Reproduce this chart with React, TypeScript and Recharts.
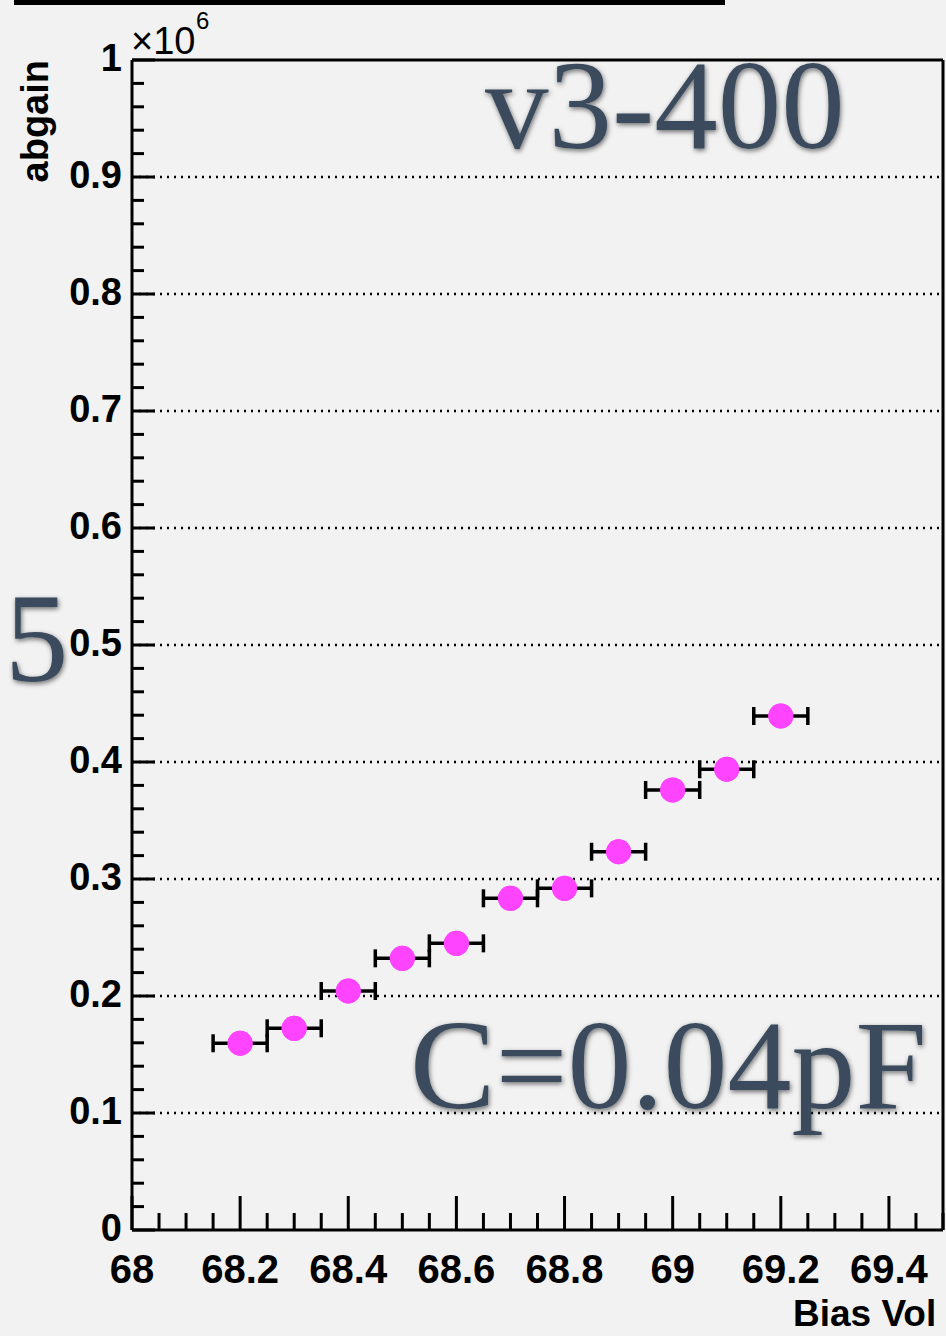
import {
    CartesianGrid,
    ErrorBar,
    ReferenceLine,
    Scatter,
    ScatterChart,
    XAxis,
    YAxis,
} from "recharts";

// bias voltage (V) and gain (x10^6)
const biasVolts = [68.2, 68.3, 68.4, 68.5, 68.6, 68.7, 68.8, 68.9, 69.0, 69.1, 69.2];
const gainMillions = [0.1596, 0.1724, 0.2043, 0.2322, 0.245, 0.2835, 0.292, 0.3233, 0.3761, 0.3938, 0.4393];
const biasErr = [0.05, 0.05, 0.05, 0.05, 0.05, 0.05, 0.05, 0.05, 0.05, 0.05, 0.05];

const xMajorTicks = [68, 68.2, 68.4, 68.6, 68.8, 69, 69.2, 69.4];
const yMajorTicks = [0, 0.1, 0.2, 0.3, 0.4, 0.5, 0.6, 0.7, 0.8, 0.9, 1];
const gridValues = [0.1, 0.2, 0.3, 0.4, 0.5, 0.6, 0.7, 0.8, 0.9];

const points = biasVolts.map((v, i) => ({ v, g: gainMillions[i], ex: biasErr[i] }));

// minor ticks: 0.05 V on x, 0.02 on y
const xTicks: number[] = [];
for (let i = 0; i <= 30; i++) xTicks.push(+(68 + i * 0.05).toFixed(2));
const yTicks: number[] = [];
for (let i = 0; i <= 50; i++) yTicks.push(+(i * 0.02).toFixed(2));

const isMajor = (v: number, list: number[]) => list.some((t) => Math.abs(t - v) < 1e-6);

const SANS = "'Liberation Sans', Arial, Helvetica, sans-serif";
const SERIF = "'Liberation Serif', 'Times New Roman', serif";
const SLATE = "#3a4c5d";

function XTick(props: any) {
    const { x, y, payload } = props;
    const major = isMajor(payload.value, xMajorTicks);
    return (
        <g>
            <line x1={x} x2={x} y1={y} y2={y - (major ? 34 : 17)} stroke="#000" strokeWidth={3} />
            {major && (
                <text x={x} y={y + 53} textAnchor="middle" fontSize={40} fontWeight="bold" fontFamily={SANS} fill="#000">
                    {String(Number(payload.value.toFixed(1)))}
                </text>
            )}
        </g>
    );
}

function YTick(props: any) {
    const { x, y, payload } = props;
    const major = isMajor(payload.value, yMajorTicks);
    return (
        <g>
            <line x1={x} x2={x + (major ? 23 : 12)} y1={y} y2={y} stroke="#000" strokeWidth={3} />
            {major && (
                <text x={x - 10} y={y + 11} textAnchor="end" fontSize={38} fontWeight="bold" fontFamily={SANS} fill="#000">
                    {String(Number(payload.value.toFixed(1)))}
                </text>
            )}
        </g>
    );
}

function Marker(props: any) {
    return <circle cx={props.cx} cy={props.cy} r={12.5} fill="#ff44ff" />;
}

export default function App() {
    return (
        <div style={{ position: "absolute", left: 0, top: 0, width: 946, height: 1336, background: "#f2f2f2", overflow: "hidden" }}>
            <ScatterChart width={946} height={1336} margin={{ top: 60, right: 3, bottom: 0, left: 0 }}>
                <CartesianGrid
                    vertical={false}
                    horizontalValues={gridValues}
                    stroke="#000"
                    strokeWidth={2.5}
                    strokeDasharray="2 5"
                />
                <XAxis
                    type="number"
                    dataKey="v"
                    domain={[68, 69.5]}
                    ticks={xTicks}
                    interval={0}
                    height={106}
                    tickSize={0}
                    tickMargin={0}
                    tickLine={false}
                    axisLine={{ stroke: "#000", strokeWidth: 3 }}
                    tick={<XTick />}
                    allowDataOverflow
                />
                <YAxis
                    type="number"
                    dataKey="g"
                    domain={[0, 1]}
                    ticks={yTicks}
                    interval={0}
                    width={132}
                    tickSize={0}
                    tickMargin={0}
                    tickLine={false}
                    axisLine={{ stroke: "#000", strokeWidth: 3 }}
                    tick={<YTick />}
                    allowDataOverflow
                />
                <ReferenceLine y={1} stroke="#000" strokeWidth={3} />
                <ReferenceLine x={69.5} stroke="#000" strokeWidth={3} />
                <Scatter data={points} shape={<Marker />} isAnimationActive={false}>
                    <ErrorBar dataKey="ex" direction="x" width={9} stroke="#000" strokeWidth={3.5} isAnimationActive={false} />
                </Scatter>
                {/* markers again so they sit on top of the error bars */}
                <Scatter data={points} shape={<Marker />} isAnimationActive={false} />
            </ScatterChart>

            <svg width={946} height={1336} style={{ position: "absolute", left: 0, top: 0, pointerEvents: "none" }}>
                <defs>
                    <filter id="glow" x="-10%" y="-20%" width="120%" height="140%">
                        <feDropShadow dx={1} dy={2} stdDeviation={2.5} floodColor="#000" floodOpacity={0.55} />
                    </filter>
                </defs>
                <rect x={14} y={0} width={711} height={5} fill="#000" />
                <text x={48} y={60} transform="rotate(-90 48 60)" textAnchor="end" fontSize={38} fontWeight="bold" fontFamily={SANS} fill="#000">
                    abgain
                </text>
                <text x={131} y={54} fontSize={38} fontFamily={SANS} fill="#000">
                    ×10
                </text>
                <text x={196} y={29} fontSize={24} fontFamily={SANS} fill="#000">
                    6
                </text>
                <g filter="url(#glow)" fill={SLATE} fontFamily={SERIF}>
                    <text x={485} y={148} fontSize={127}>v3-400</text>
                    <text x={410} y={1108} fontSize={128}>C=0.04pF</text>
                    <text x={5} y={681} fontSize={127}>5</text>
                </g>
                <text x={793} y={1326} fontSize={37} fontWeight="bold" fontFamily={SANS} fill="#000">
                    Bias Vol
                </text>
            </svg>
        </div>
    );
}
